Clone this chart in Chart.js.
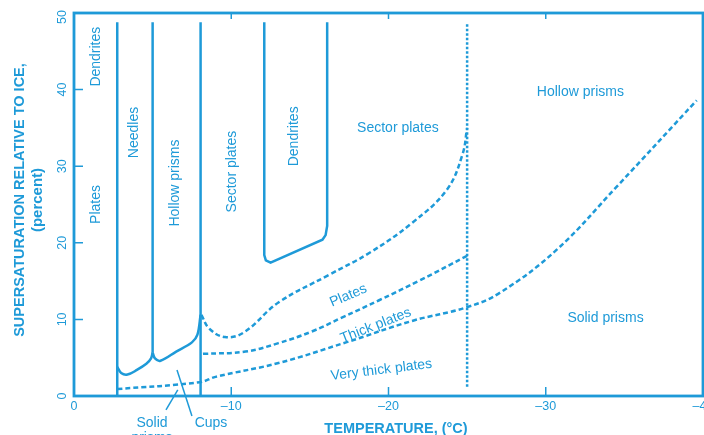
<!DOCTYPE html>
<html>
<head>
<meta charset="utf-8">
<script src="https://cdn.jsdelivr.net/npm/chart.js@4.4.1/dist/chart.umd.min.js"></script>
<style>
  html, body { margin: 0; padding: 0; background: #fff; overflow: hidden; }
  #wrap { width: 704px; height: 435px; position: relative; }
</style>
</head>
<body>
<div id="wrap"><canvas id="habitChart"></canvas></div>
<script>
// axes
const tempTicks = [0, -10, -20, -30, -40];
const satTicks = [0, 10, 20, 30, 40, 50];

// solid boundaries [temperature °C, supersaturation %]
const needlesLeft = [[-2.75, 0], [-2.75, 48.8]];
const needlesRight = [[-5.0, 5.7], [-5.0, 48.8]];
const sectorLeft = [[-8.05, 0], [-8.05, 48.8]];
const needlesFloor = [[-2.75, 3.8], [-3.0, 3.0], [-3.4, 2.8], [-4.0, 3.4], [-4.6, 4.2], [-4.9, 4.9], [-5.0, 5.7]];
const hollowFloor = [[-5.0, 5.7], [-5.15, 4.9], [-5.5, 4.6], [-6.5, 5.8], [-7.5, 7.0], [-7.85, 8.0], [-8.05, 10.6]];
const dendriteBox = [[-12.1, 48.8], [-12.1, 18.4], [-12.2, 17.7], [-12.5, 17.4], [-15.8, 20.4], [-16.0, 21.0], [-16.1, 22.2], [-16.1, 48.8]];

// dashed boundaries
const platesTop = [[-8.1, 10.6], [-8.6, 8.8], [-9.6, 7.7], [-10.8, 8.3], [-13.0, 12.2], [-16.2, 15.8], [-18.8, 18.7], [-21.5, 22.6], [-23.7, 26.9], [-24.7, 31.5], [-25.0, 35.0]];
const thickTop = [[-8.2, 5.5], [-10.9, 5.8], [-13.0, 6.9], [-15.1, 8.4], [-17.0, 10.2], [-19.4, 12.5], [-22.0, 15.1], [-25.0, 18.3]];
const veryThickTop = [[-2.75, 0.9], [-8.0, 1.8], [-9.0, 2.5], [-13.0, 4.3], [-17.3, 7.0], [-21.5, 9.8], [-25.0, 11.6], [-27.1, 13.5], [-30.7, 19.1], [-34.5, 27.3], [-39.6, 38.6]];
const prismLine = [[-25, 1.2], [-25, 48.8]];

// pointers under the axis
const solidPointer = [[-5.85, -1.8], [-6.6, 0.8]];
const cupsPointer = [[-7.5, -2.6], [-6.55, 3.4]];

const BLUE = '#1e9ad8';
const FONT = '"Liberation Sans", Arial, sans-serif';

function pts(arr) { return arr.map(p => ({ x: p[0], y: p[1] })); }

function solid(arr, tension) {
    return { data: pts(arr), borderColor: BLUE, borderWidth: 2.5, pointRadius: 0, tension: tension || 0, fill: false, clip: false };
}
function dashed(arr) {
    return { data: pts(arr), borderColor: BLUE, borderWidth: 2.5, borderDash: [5, 3], pointRadius: 0, tension: 0.4, fill: false };
}

const datasets = [
    solid(needlesLeft), solid(needlesRight), solid(sectorLeft),
    solid(needlesFloor, 0.35), solid(hollowFloor, 0.35),
    solid(dendriteBox),
    dashed(platesTop), dashed(thickTop), dashed(veryThickTop),
    { data: pts(prismLine), borderColor: BLUE, borderWidth: 2.5, borderDash: [2.5, 2], pointRadius: 0, fill: false },
    { data: pts(solidPointer), borderColor: BLUE, borderWidth: 1.5, pointRadius: 0, clip: false },
    { data: pts(cupsPointer), borderColor: BLUE, borderWidth: 1.5, pointRadius: 0, clip: false }
];

// text placed in data units
const verticalLabels = [
    ['Dendrites', -1.4, 44.3], ['Plates', -1.4, 25.0], ['Needles', -3.83, 34.4],
    ['Hollow prisms', -6.45, 27.8], ['Sector plates', -10.05, 29.3], ['Dendrites', -14.0, 33.9]
];
const flatLabels = [
    ['Sector plates', -20.6, 35.0], ['Hollow prisms', -32.2, 39.7], ['Solid prisms', -33.8, 10.2]
];
const slantLabels = [
    ['Plates', -17.45, 13.1, -23], ['Thick plates', -19.2, 9.2, -21.5], ['Very thick plates', -19.55, 3.4, -7]
];

function rotText(ctx, t, px, py, ang) {
    ctx.save();
    ctx.translate(px, py);
    ctx.rotate(ang * Math.PI / 180);
    ctx.fillText(t, 0, 0);
    ctx.restore();
}

const framePlugin = {
    id: 'frame',
    afterDraw(chart) {
        const { ctx, chartArea: a, scales } = chart;
        const x = scales.x, y = scales.y;
        ctx.save();
        ctx.strokeStyle = BLUE;
        ctx.lineWidth = 2.8;
        ctx.strokeRect(a.left, a.top, a.right - a.left, a.bottom - a.top);
        ctx.lineWidth = 1.5;
        ctx.beginPath();
        satTicks.slice(1, -1).forEach(v => {
            const py = y.getPixelForValue(v);
            ctx.moveTo(a.left, py); ctx.lineTo(a.left + 9, py);
        });
        tempTicks.slice(1, -1).forEach(v => {
            const px = x.getPixelForValue(v);
            ctx.moveTo(px, a.bottom); ctx.lineTo(px, a.bottom - 9);
            ctx.moveTo(px, a.top); ctx.lineTo(px, a.top + 6);
        });
        ctx.stroke();

        ctx.fillStyle = BLUE;
        ctx.textAlign = 'center';
        ctx.textBaseline = 'middle';

        // rotated y tick labels
        ctx.font = '12.5px ' + FONT;
        satTicks.forEach(v => rotText(ctx, String(v), 63, Math.max(y.getPixelForValue(v), 17), -90));

        ctx.font = '14px ' + FONT;
        verticalLabels.forEach(([t, tx, ty]) => rotText(ctx, t, x.getPixelForValue(tx), y.getPixelForValue(ty), -90));
        flatLabels.forEach(([t, tx, ty]) => ctx.fillText(t, x.getPixelForValue(tx), y.getPixelForValue(ty)));
        slantLabels.forEach(([t, tx, ty, ang]) => rotText(ctx, t, x.getPixelForValue(tx), y.getPixelForValue(ty), ang));
        ctx.fillText('Solid', 152, 423);
        ctx.fillText('prisms', 152, 438);
        ctx.fillText('Cups', 211, 423);

        ctx.font = 'bold 14.5px ' + FONT;
        ctx.fillText('TEMPERATURE, (°C)', 396, 429);
        rotText(ctx, 'SUPERSATURATION RELATIVE TO ICE,', 20, 200, -90);
        ctx.font = 'bold 15px ' + FONT;
        rotText(ctx, '(percent)', 38, 200, -90);
        ctx.restore();
    }
};

new Chart(document.getElementById('habitChart'), {
    type: 'line',
    data: { datasets },
    plugins: [framePlugin],
    options: {
        responsive: true,
        maintainAspectRatio: false,
        animation: false,
        layout: { padding: { left: 0, right: 1, top: 13, bottom: 0 } },
        plugins: { legend: { display: false }, tooltip: { enabled: false } },
        scales: {
            x: {
                type: 'linear', min: -40, max: 0, reverse: true,
                grid: { display: false, drawTicks: false }, border: { display: false },
                afterBuildTicks: s => { s.ticks = tempTicks.map(v => ({ value: v })); },
                ticks: {
                    color: BLUE, padding: 3,
                    font: { family: FONT, size: 12.5 },
                    callback: v => v === 0 ? '0' : '\u2013' + Math.abs(v),
                    maxRotation: 0
                },
                afterFit: s => { s.height = 39; s.paddingLeft = 0; s.paddingRight = 0; }
            },
            y: {
                type: 'linear', min: 0, max: 50,
                grid: { display: false, drawTicks: false }, border: { display: false },
                afterBuildTicks: s => { s.ticks = satTicks.map(v => ({ value: v })); },
                ticks: { display: false },
                afterFit: s => { s.width = 74; s.paddingTop = 0; s.paddingBottom = 0; }
            }
        }
    }
});
</script>
</body>
</html>
